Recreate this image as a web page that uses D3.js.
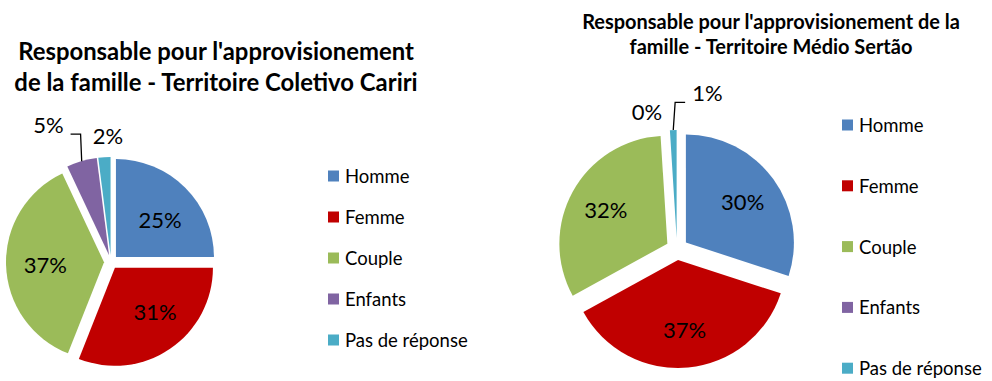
<!DOCTYPE html>
<html>
<head>
<meta charset="utf-8">
<script src="https://cdn.jsdelivr.net/npm/d3@7"></script>
<style>
  body { margin: 0; background: #fff; }
  svg { display: block; }
  text { font-family: Lato, "Open Sans", sans-serif; }
</style>
</head>
<body>
<svg id="chart" width="992" height="381"></svg>
<script>
// Categories shared by both territories
const categories = ["Homme", "Femme", "Couple", "Enfants", "Pas de réponse"];
// Share of households (%) per category
const caririValues = [25, 31, 37, 5, 2];
const sertaoValues = [30, 37, 32, 0, 1];
// Chart titles, one entry per line
const caririTitle = ["Responsable pour l'approvisionement", "de la famille - Territoire Coletivo Cariri"];
const sertaoTitle = ["Responsable pour l'approvisionement de la", "famille - Territoire Médio Sertão"];

const palette = ["#4F81BD", "#C00000", "#9BBB59", "#8064A2", "#4BACC6"];

const svg = d3.select("#chart");
const color = d3.scaleOrdinal().domain(categories).range(palette);
const pie = d3.pie().sort(null).value(d => d.value);

// Layout per chart; label placements are polar (degrees clockwise from 12 o'clock, px from centre)
const charts = [
  {
    title: caririTitle, values: caririValues,
    cx: 111, cy: 262, r: 98, explode: 7, labelFrac: 0.6,
    titleX: 216, titleY: 60, titleStep: 31, titleWidth: 396,
    legendX: 328, legendY: 176, legendStep: 41,
    placed: {
      0: { angle: 49, dist: 65 },
      1: { angle: 138, dist: 66 },
      3: { angle: 335.5, dist: 151, leader: true },
      4: { angle: 358.6, dist: 127 }
    }
  },
  {
    title: sertaoTitle, values: sertaoValues,
    cx: 677, cy: 249, r: 108, explode: 11, labelFrac: 0.65,
    titleX: 771, titleY: 29, titleStep: 25, titleWidth: 378,
    legendX: 842, legendY: 125, legendStep: 60.8,
    placed: {
      3: { angle: 347.7, dist: 141 },
      4: { angle: 11, dist: 159, leader: true }
    }
  }
];

const rad = deg => deg * Math.PI / 180;

charts.forEach(cfg => {
  const data = categories.map((c, i) => ({ category: c, value: cfg.values[i] }));
  const arcs = pie(data);
  const arc = d3.arc().innerRadius(0).outerRadius(cfg.r);
  const g = svg.append("g").attr("transform", `translate(${cfg.cx},${cfg.cy})`);

  // Offset of each exploded slice along its bisector
  const shift = a => {
    const m = (a.startAngle + a.endAngle) / 2;
    return [Math.sin(m) * cfg.explode, -Math.cos(m) * cfg.explode];
  };

  g.selectAll("path.slice")
    .data(arcs.filter(a => a.value > 0))
    .join("path")
    .attr("class", "slice")
    .attr("d", arc)
    .attr("fill", a => color(a.data.category))
    .attr("transform", a => { const [dx, dy] = shift(a); return `translate(${dx},${dy})`; });

  // Percentage labels
  arcs.forEach((a, i) => {
    const p = cfg.placed[i];
    let x, y;
    if (p) {
      x = Math.sin(rad(p.angle)) * p.dist;
      y = -Math.cos(rad(p.angle)) * p.dist;
    } else {
      const m = (a.startAngle + a.endAngle) / 2;
      const d = cfg.r * cfg.labelFrac + cfg.explode;
      x = Math.sin(m) * d;
      y = -Math.cos(m) * d;
    }
    const t = g.append("text")
      .attr("x", x).attr("y", y)
      .attr("text-anchor", "middle")
      .attr("dominant-baseline", "central")
      .attr("font-size", 22)
      .attr("fill", "#000")
      .text(`${a.value}%`);

    if (p && p.leader) {
      const w = t.node().getComputedTextLength();
      const m = (a.startAngle + a.endAngle) / 2;
      const [dx, dy] = shift(a);
      const ex = dx + Math.sin(m) * cfg.r;
      const ey = dy - Math.cos(m) * cfg.r;
      const dir = ex > x ? 1 : -1;
      const sx = x + dir * (w / 2 + 7);
      const sy = y + 9.5;
      g.append("path")
        .attr("d", d3.line()([[sx, sy], [sx + dir * 10, sy], [ex, ey]]))
        .attr("fill", "none")
        .attr("stroke", "#000")
        .attr("stroke-width", 1.3);
    }
  });

  // Title, sized so the first line spans the title block width
  const title = svg.append("text")
    .attr("text-anchor", "middle")
    .attr("font-weight", "bold")
    .attr("font-size", 20)
    .attr("fill", "#000");
  cfg.title.forEach((line, i) => {
    title.append("tspan").attr("x", cfg.titleX).attr("y", cfg.titleY + i * cfg.titleStep).text(line);
  });
  const first = title.select("tspan").node().getComputedTextLength();
  title.attr("font-size", 20 * cfg.titleWidth / first);

  // Legend
  const legend = svg.append("g");
  const rows = legend.selectAll("g")
    .data(categories)
    .join("g")
    .attr("transform", (c, i) => `translate(${cfg.legendX},${cfg.legendY + i * cfg.legendStep})`);
  rows.append("rect")
    .attr("x", 0).attr("y", -5.5)
    .attr("width", 11).attr("height", 11)
    .attr("fill", c => color(c));
  rows.append("text")
    .attr("x", 17).attr("y", 0)
    .attr("dominant-baseline", "central")
    .attr("font-size", 18.5)
    .attr("fill", "#000")
    .text(c => c);
});
</script>
</body>
</html>
